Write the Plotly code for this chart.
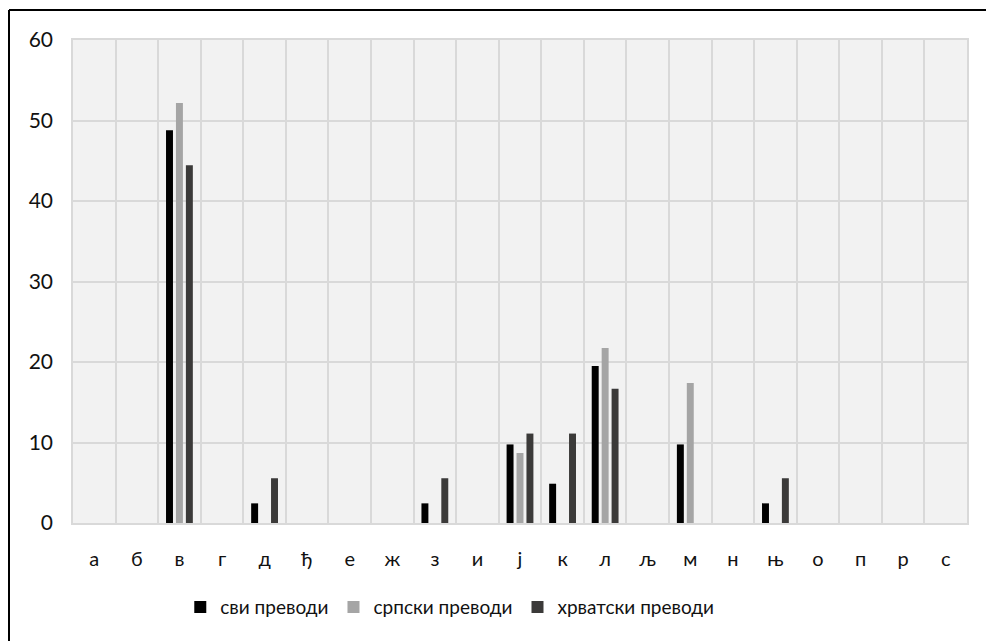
import plotly.graph_objects as go

# Letters of the alphabet (categories)
letters = ["а", "б", "в", "г", "д", "ђ", "е", "ж", "з", "и", "ј",
           "к", "л", "љ", "м", "н", "њ", "о", "п", "р", "с"]

# Percentage shares per letter
all_translations = [0, 0, 48.78, 0, 2.44, 0, 0, 0, 2.44, 0, 9.76,
                    4.88, 19.51, 0, 9.76, 0, 2.44, 0, 0, 0, 0]
serbian_translations = [0, 0, 52.17, 0, 0, 0, 0, 0, 0, 0, 8.70,
                        0, 21.74, 0, 17.39, 0, 0, 0, 0, 0, 0]
croatian_translations = [0, 0, 44.44, 0, 5.56, 0, 0, 0, 5.56, 0, 11.11,
                         11.11, 16.67, 0, 0, 0, 5.56, 0, 0, 0, 0]

series_names = ["сви преводи", "српски преводи", "хрватски преводи"]
series_colors = ["#000000", "#A5A5A5", "#3B3A39"]
y_ticks = [0, 10, 20, 30, 40, 50, 60]

FONT = "Lato, Open Sans"

fig = go.Figure()
for name, vals, col in zip(series_names,
                           [all_translations, serbian_translations, croatian_translations],
                           series_colors):
    fig.add_trace(go.Bar(
        x=letters, y=vals, name=name,
        marker=dict(color=col, line=dict(width=0)),
    ))

fig.update_layout(
    width=986, height=641,
    margin=dict(l=73, r=19, t=40, b=118),
    paper_bgcolor="white",
    plot_bgcolor="#F2F2F2",
    barmode="group",
    bargap=0.30,
    bargroupgap=0.30,
    font=dict(family=FONT, size=20, color="#111111"),
    showlegend=True,
    legend=dict(
        orientation="h",
        x=0.12, xanchor="left",
        y=-0.174, yanchor="middle",
        font=dict(family=FONT, size=19, color="#111111"),
        itemwidth=30,
        traceorder="normal",
    ),
    xaxis=dict(
        type="category",
        tickson="boundaries",
        showgrid=True,
        gridcolor="#D9D9D9",
        gridwidth=1.5,
        showline=True,
        linecolor="#D9D9D9",
        linewidth=1.5,
        mirror=True,
        ticks="",
        ticklabelstandoff=17,
        tickfont=dict(family=FONT, size=20),
        range=[-0.5, len(letters) - 0.5],
        fixedrange=True,
    ),
    yaxis=dict(
        range=[0, 60],
        tickvals=y_ticks,
        showgrid=True,
        gridcolor="#D9D9D9",
        gridwidth=1.5,
        zeroline=False,
        showline=True,
        linecolor="#D9D9D9",
        linewidth=1.5,
        mirror=True,
        ticks="",
        ticklabelstandoff=14,
        tickfont=dict(family=FONT, size=21),
    ),
)

# Outer frame on the left and top edges of the figure
frame_x = (9 - 73) / 894
frame_y = 1 + (40 - 10) / 483
fig.add_shape(type="line", xref="paper", yref="paper",
              x0=frame_x, x1=frame_x, y0=-0.3, y1=frame_y,
              line=dict(color="black", width=2))
fig.add_shape(type="line", xref="paper", yref="paper",
              x0=frame_x, x1=1.1, y0=frame_y, y1=frame_y,
              line=dict(color="black", width=2))

fig.write_html("out.html")
